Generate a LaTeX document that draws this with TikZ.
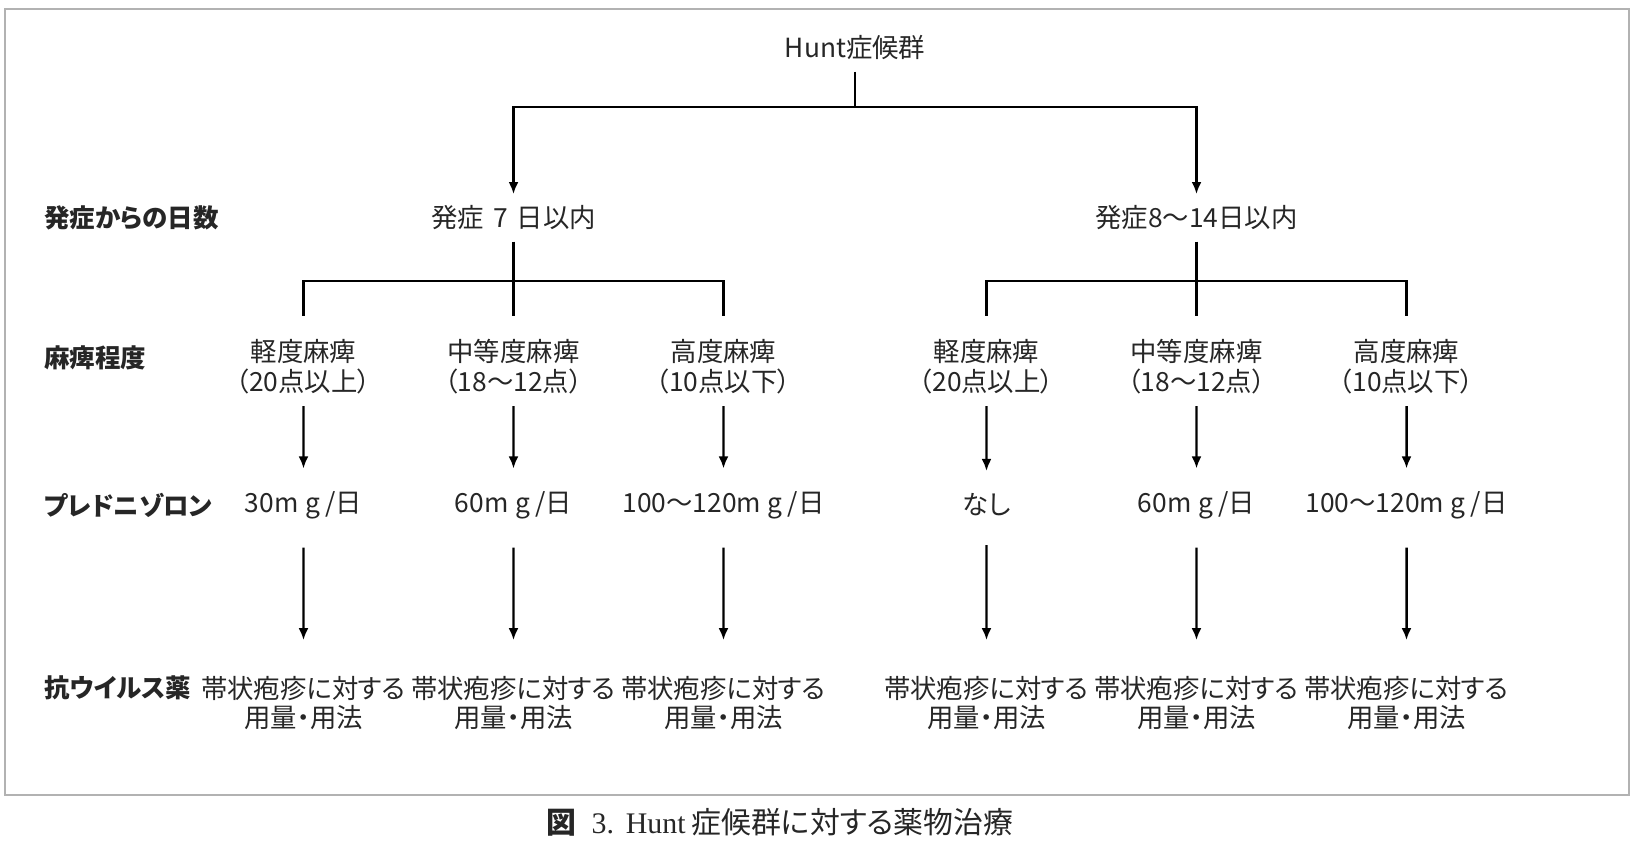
\documentclass[tikz,border=0pt]{standalone}
\usepackage{fontspec}
\setmainfont{Noto Sans CJK JP}[RawFeature=+palt]
\newfontfamily\serifcap{Liberation Serif}
\usetikzlibrary{trees,arrows.meta}
\tikzstyle{every node}=[font=\fontsize{15}{17}\selectfont,inner sep=6pt,align=center,text=black!85]
\tikzstyle{rowlabel}=[font=\bfseries\fontsize{14.5}{16}\selectfont,inner sep=0pt,anchor=west]
\tikzstyle{tip}=[-{Latex[length=2.4mm,width=2mm]}]
\newcommand{\mgday}[1]{#1m\hspace{0.25em}g\hspace{0.2em}/日}

\begin{document}
\begin{tikzpicture}[%
          line width=1.4pt,
          level 1/.style={sibling distance=13.66cm,level distance=3.4cm,
            edge from parent/.style={draw,tip},
            edge from parent path={(\tikzparentnode.south) -- +(0,-0.7) -| (\tikzchildnode.north)}},
          level 2/.style={sibling distance=4.2cm,level distance=2.98cm,
            edge from parent/.style={draw,shorten >=0.24cm},
            edge from parent path={(\tikzparentnode.south) -- +(0,-0.78) -| (\tikzchildnode.north)}},
          level 3/.style={level distance=2.76cm,
            edge from parent/.style={draw,tip,shorten >=0.22cm},
            edge from parent path={(\tikzparentnode.south) -- (\tikzchildnode.north)}},
          level 4/.style={level distance=3.96cm,
            edge from parent/.style={draw,tip,shorten <=0.34cm,shorten >=0.48cm},
            edge from parent path={(\tikzparentnode.south) -- (\tikzchildnode.north)}}]
          \useasboundingbox (0,0) rectangle (33,-17.02);
          \draw[gray!60,line width=0.8pt] (0.1,-0.18) rectangle (32.58,-15.9);
          \node (rowdays) [rowlabel] at (0.86,-4.36) {発症からの日数};
          \node (rowgrade) [rowlabel] at (0.86,-7.16) {麻痺程度};
          \node (rowpsl) [rowlabel] at (0.86,-10.1) {プレドニゾロン};
          \node (rowviral) [rowlabel] at (0.86,-13.76) {抗ウイルス薬};
          \node (hunt) at (17.1,-0.96) {Hunt症候群}
            child { node (early) {発症\hspace{0.35em}7\hspace{0.35em}日以内}
              child { node (mildE) {軽度麻痺\\（20点以上）}
                child { node (pslmildE) {\mgday{30}}
                  child { node (viralmildE) {帯状疱疹に対する\\用量・用法}}}}
              child { node (modE) {中等度麻痺\\（18〜12点）}
                child { node (pslmodE) {\mgday{60}}
                  child { node (viralmodE) {帯状疱疹に対する\\用量・用法}}}}
              child { node (sevE) {高度麻痺\\（10点以下）}
                child { node (pslsevE) {\mgday{100〜120}}
                  child { node (viralsevE) {帯状疱疹に対する\\用量・用法}}}}}
            child { node (late) {発症8〜14日以内}
              child { node (mildL) {軽度麻痺\\（20点以上）}
                child { node (pslmildL) {なし}
                  child { node (viralmildL) {帯状疱疹に対する\\用量・用法}}}}
              child { node (modL) {中等度麻痺\\（18〜12点）}
                child { node (pslmodL) {\mgday{60}}
                  child { node (viralmodL) {帯状疱疹に対する\\用量・用法}}}}
              child { node (sevL) {高度麻痺\\（10点以下）}
                child { node (pslsevL) {\mgday{100〜120}}
                  child { node (viralsevL) {帯状疱疹に対する\\用量・用法}}}}};
          \node (caption) [font=\fontsize{17}{19}\selectfont] at (15.6,-16.44) {\textbf{図}\hspace{0.5em}\serifcap 3.\hspace{0.4em}Hunt\hspace{0.2em}\rmfamily 症候群に対する薬物治療};
        \end{tikzpicture}
\end{document}
